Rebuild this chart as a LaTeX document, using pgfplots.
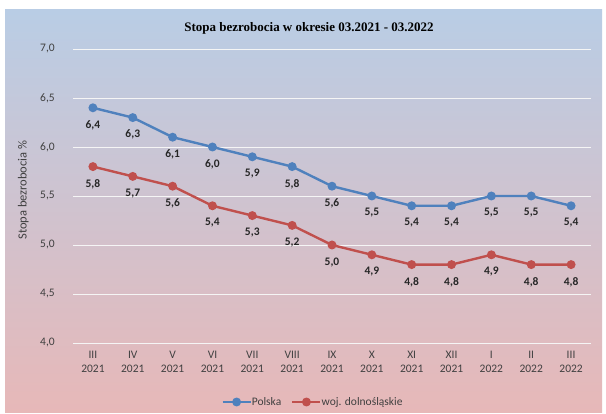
\documentclass[border=0pt]{standalone}
\usepackage{fontspec}
\setmainfont{Carlito}
\newfontfamily\titlefont{Liberation Serif}
\usepackage{pgfplots}
\pgfplotsset{compat=1.18}
\definecolor{bgtop}{RGB}{185,205,229}
\definecolor{bgbot}{RGB}{231,184,184}
\definecolor{pblue}{RGB}{79,129,189}
\definecolor{pred}{RGB}{192,80,77}
\definecolor{txt}{RGB}{64,64,64}
\begin{document}
\begin{tikzpicture}[x=1pt,y=1pt]
\path[use as bounding box, fill=white] (0,0) rectangle (606,414);
\shade[top color=bgtop, bottom color=bgbot] (5,1) rectangle (602,404);
\node[font=\titlefont\bfseries\fontsize{13}{15}\selectfont, text=black] at (309,386) {Stopa bezrobocia w okresie 03.2021 - 03.2022};
\begin{axis}[
  at={(73pt,71pt)}, anchor=south west,
  scale only axis, width=518pt, height=294pt,
  xmin=-0.5, xmax=12.5, ymin=4, ymax=7,
  ytick={4,4.5,5,5.5,6,6.5,7},
  xtick={0,...,12},
  xticklabels={{III\\2021},{IV\\2021},{V\\2021},{VI\\2021},{VII\\2021},{VIII\\2021},{IX\\2021},{X\\2021},{XI\\2021},{XII\\2021},{I\\2022},{II\\2022},{III\\2022}},
  xticklabel style={align=center, font=\fontsize{11.5}{14}\selectfont, text=txt, yshift=-5pt},
  yticklabel style={font=\fontsize{11.5}{13}\selectfont, text=txt, xshift=-14.7pt,
     /pgf/number format/.cd, fixed, fixed zerofill, precision=1, use comma},
  /pgf/number format/assume math mode=true,
  axis line style={draw=none},
  major tick length=0pt,
  ymajorgrids, grid style={white!92!gray, line width=0.8pt},
  ylabel={Stopa bezrobocia \%},
  ylabel style={font=\fontsize{12.5}{14}\selectfont, text=txt, at={(axis description cs:-0.096,0.52)}, anchor=center},
  nodes near coords,
  every node near coord/.append style={anchor=north, yshift=-8pt, font=\bfseries\fontsize{11.5}{13}\selectfont, text=black!85,
     /pgf/number format/.cd, fixed, fixed zerofill, precision=1, use comma, assume math mode=true},
  legend style={at={(0.4633,-0.2007)}, anchor=center, draw=none, fill=none, legend columns=2,
     font=\fontsize{11.5}{13}\selectfont, text=txt, /tikz/every even column/.append style={column sep=8pt},
     /tikz/every odd column/.append style={column sep=-2pt}},
  legend image code/.code={\draw[mark repeat=2,mark phase=2,#1] plot coordinates {(0pt,0pt) (14pt,0pt) (28pt,0pt)};},
  legend cell align=left,
  clip=false,
]
\addplot[color=pblue, line width=2.4pt, mark=*, mark size=3.2pt] coordinates {
(0,6.4) (1,6.3) (2,6.1) (3,6.0) (4,5.9) (5,5.8) (6,5.6) (7,5.5) (8,5.4) (9,5.4) (10,5.5) (11,5.5) (12,5.4)};
\addlegendentry{Polska}
\addplot[color=pred, line width=2.4pt, mark=*, mark size=3.2pt] coordinates {
(0,5.8) (1,5.7) (2,5.6) (3,5.4) (4,5.3) (5,5.2) (6,5.0) (7,4.9) (8,4.8) (9,4.8) (10,4.9) (11,4.8) (12,4.8)};
\addlegendentry{woj. dolnośląskie}
\end{axis}
\end{tikzpicture}
\end{document}
